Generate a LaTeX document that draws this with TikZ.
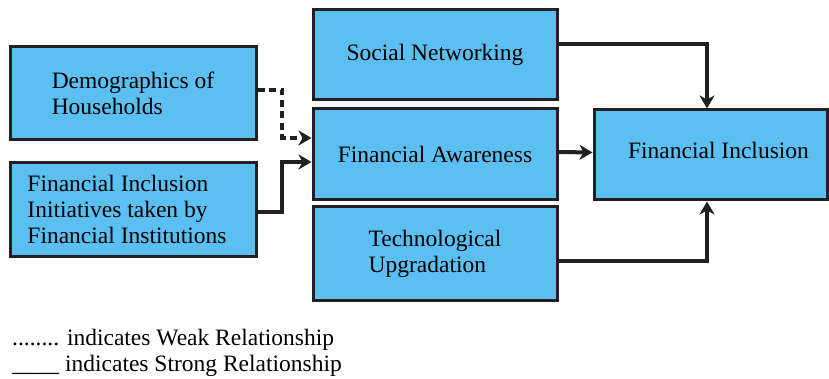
\documentclass[tikz,border=0pt]{standalone}
\usepackage{fontspec}
\setmainfont{Liberation Serif}
\usetikzlibrary{arrows.meta,calc}
\definecolor{boxblue}{HTML}{5CBFF2}
\definecolor{ink}{HTML}{231F20}
\begin{document}
\begin{tikzpicture}[x=1pt,y=-1pt,
  font=\fontsize{23.5}{26}\selectfont,
  box/.style={draw=ink,fill=boxblue,line width=3pt,rectangle,inner sep=0pt},
  conn/.style={draw=ink,line width=4pt,-{Stealth[length=13pt,width=15pt,inset=4pt]}},
  weak/.style={conn,dash pattern=on 7pt off 4.5pt},
  note/.style={anchor=west,inner sep=0pt}]
\useasboundingbox (0,0) rectangle (829,379);

% boxes
\node[box,minimum width=246pt,minimum height=93pt,align=left] (dem) at (133,93.5)
  {Demographics of\\Households};
\node[box,minimum width=246pt,minimum height=93pt,align=left] (ini) at (133,209.5)
  {Financial Inclusion\\Initiatives taken by\\Financial Institutions\hspace*{12pt}};
\node[box,minimum width=244pt,minimum height=90pt] (soc) at (435,55) {Social Networking};
\node[box,minimum width=244pt,minimum height=91pt] (awa) at (435,154.5) {Financial Awareness};
\node[box,minimum width=244pt,minimum height=93pt,align=left] (tec) at (435,253.5)
  {Technological\\Upgradation};
\node[box,minimum width=233pt,minimum height=90pt] (inc) at (710.5,155)
  {\raisebox{9pt}{\hspace*{16pt}Financial Inclusion}};

% connection points
\coordinate (demout) at ($(dem.east)+(0,-3.5)$);
\coordinate (iniout) at ($(ini.east)+(0,2.5)$);
\coordinate (awain1) at ($(awa.west)+(0,-16.5)$);
\coordinate (awain2) at ($(awa.west)+(0,7.5)$);
\coordinate (socout) at ($(soc.east)+(0,-11)$);
\coordinate (tecout) at ($(tec.east)+(0,7.5)$);
\coordinate (inctop) at ($(inc.north)+(-3.5,0)$);
\coordinate (incbot) at ($(inc.south)+(-3.5,0)$);

% connectors
\draw[weak] (demout) -- (demout -| 282,0) |- (awain1);
\draw[conn] (iniout) -- (iniout -| 282,0) |- (awain2);
\draw[conn] ($(awa.east)+(0,-2.5)$) -- ($(inc.west)+(0,-2.5)$);
\draw[conn] (socout) -| (inctop);
\draw[conn] (tecout) -| (incbot);

% legend
\node[note] (lw) at (12,340) {........ indicates Weak Relationship};
\node[note] (ls) at (12,366) {\_\_\_\_ indicates Strong Relationship};
\end{tikzpicture}
\end{document}
